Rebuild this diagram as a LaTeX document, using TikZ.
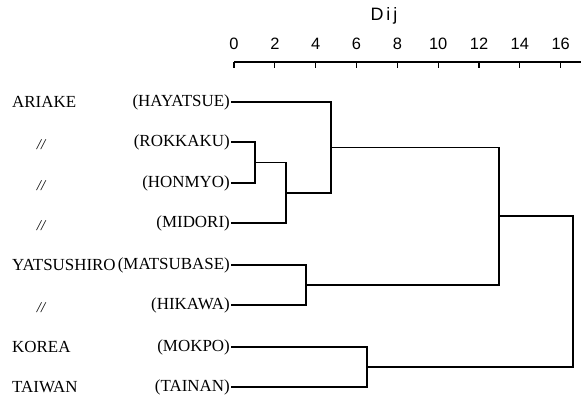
\documentclass[tikz,border=0pt]{standalone}
\usepackage{fontspec}
\setmainfont{Liberation Serif}
\newfontfamily\axisfont{Liberation Sans}
\begin{document}
\begin{tikzpicture}[x=1bp,y=-1bp,
  leaf/.style={anchor=east,inner sep=1bp,font=\fontsize{17}{18}\selectfont},
  group/.style={anchor=west,inner sep=0pt,font=\fontsize{17}{18}\selectfont},
  ditto/.style={inner sep=0pt,font=\fontsize{15}{15}\selectfont\itshape},
  num/.style={inner sep=0pt,font=\axisfont\fontsize{16.5}{16.5}\selectfont},
  tree/.style={line width=1.4bp,line join=miter},
  axisline/.style={line width=1.1bp}]
\useasboundingbox (0,0) rectangle (585,400);
% axis
\node[num,font=\axisfont\fontsize{18}{18}\selectfont] (dij) at (384,16) {D\,i\,j};
\draw[axisline] (234,62) -- (581,62);
\foreach \k in {0,2,4,6,8,10,12,14,16}{
  \draw[axisline] (234+20.42*\k,62) -- ++(0,6);
  \node[num] (t\k) at (234+20.42*\k,44) {\k};
}
% leaf labels
\node[leaf] (hay) at (231,102) {(HAYATSUE)};
\node[leaf] (rok) at (231,142) {(ROKKAKU)};
\node[leaf] (hon) at (231,183) {(HONMYO)};
\node[leaf] (mid) at (231,223) {(MIDORI)};
\node[leaf] (mat) at (231,265) {(MATSUBASE)};
\node[leaf] (hik) at (231,305) {(HIKAWA)};
\node[leaf] (mok) at (231,347) {(MOKPO)};
\node[leaf] (tai) at (231,387) {(TAINAN)};
% group labels
\node[group] (g1) at (12,102) {ARIAKE};
\node[ditto] (d1) at (41,145) {//};
\node[ditto] (d2) at (41,186) {//};
\node[ditto] (d3) at (41,226) {//};
\node[group] (g2) at (12,265) {YATSUSHIRO};
\node[ditto] (d4) at (41,308) {//};
\node[group] (g3) at (12,347) {KOREA};
\node[group] (g4) at (12,387) {TAIWAN};
% merge points
\coordinate (m1) at (255,162.5);
\coordinate (m2) at (286,193);
\coordinate (m3) at (331,147.5);
\coordinate (m4) at (306,285);
\coordinate (m5) at (499,216);
\coordinate (m6) at (367,367);
\coordinate (m7) at (573,291.5);
% tree
\draw[tree] (rok.east) -| (m1) |- (hon.east);
\draw[tree] (m1) -| (m2) |- (mid.east);
\draw[tree] (hay.east) -| (m3) |- (m2);
\draw[tree] (mat.east) -| (m4) |- (hik.east);
\draw[tree] (m3) -| (m5) |- (m4);
\draw[tree] (mok.east) -| (m6) |- (tai.east);
\draw[tree] (m5) -| (m7) |- (m6);
\end{tikzpicture}
\end{document}
